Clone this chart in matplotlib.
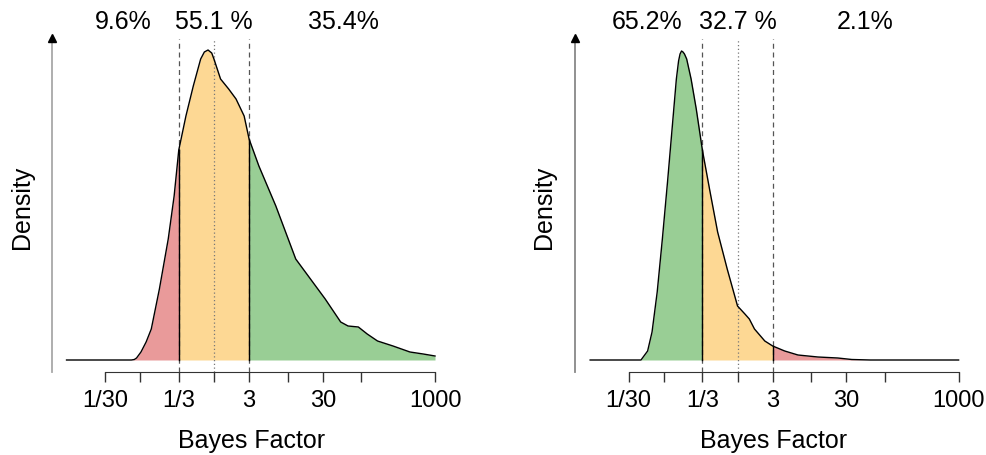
import numpy as np
import matplotlib
matplotlib.use("Agg")
from matplotlib import pyplot as plt

plt.rcParams['font.family'] = ['Liberation Sans', 'DejaVu Sans']

# log10(Bayes factor) grid and density
log_bf_left = [-2.0, -1.12, -1.08, -1.05, -0.99, -0.92, -0.85, -0.74, -0.62, -0.54, -0.477,
               -0.38, -0.28, -0.18, -0.13, -0.08, -0.03, 0.0, 0.09, 0.20, 0.30, 0.41,
               0.477, 0.61, 0.84, 1.11, 1.28, 1.51, 1.72, 1.82, 1.96, 2.08, 2.22,
               2.43, 2.66, 2.84, 3.0]
dens_left = [0, 0, 0.005, 0.02, 0.08, 0.18, 0.31, 0.71, 1.21, 1.64, 2.10,
             2.44, 2.74, 3.01, 3.08, 3.10, 3.07, 3.01, 2.81, 2.71, 2.61, 2.44,
             2.21, 1.94, 1.54, 1.01, 0.84, 0.61, 0.38, 0.34, 0.33, 0.26, 0.19,
             0.14, 0.08, 0.06, 0.04]

log_bf_right = [-2.0, -1.31, -1.22, -1.16, -1.09, -1.02, -0.95, -0.88, -0.83, -0.80,
                -0.78, -0.76, -0.74, -0.72, -0.69, -0.63, -0.56, -0.477, -0.38, -0.27,
                -0.14, 0.0, 0.10, 0.16, 0.23, 0.37, 0.477, 0.64, 0.82, 1.09, 1.36,
                1.55, 1.8, 3.0]
dens_right = [0, 0, 0.09, 0.28, 0.68, 1.21, 1.78, 2.38, 2.81, 2.99,
              3.06, 3.09, 3.08, 3.06, 3.01, 2.81, 2.51, 2.10, 1.71, 1.28,
              0.91, 0.54, 0.46, 0.41, 0.31, 0.19, 0.14, 0.09, 0.05, 0.03, 0.02,
              0.005, 0, 0]

pct_left = ["9.6%", "55.1 %", "35.4%"]
pct_right = ["65.2%", "32.7 %", "2.1%"]

tick_vals = [1/30, 1/10, 1/3, 1, 3, 10, 30, 100, 1000]
tick_labs = ["1/30", "", "1/3", "", "3", "", "30", "", "1000"]

RED = "#E99A9A"
ORANGE = "#FDD894"
GREEN = "#99CE95"

W, H = 987, 456
fig = plt.figure(figsize=(W / 100, H / 100), dpi=100)

def px_axes(x0, x1, y_top, y_bot):
    return fig.add_axes([x0 / W, (H - y_bot) / H, (x1 - x0) / W, (y_bot - y_top) / H])

def panel(ax, lx, dens, colors, pct, pct_x, arrow_grey, xlab_x):
    lx = np.array(lx)
    x = 10 ** lx
    y = np.array(dens)
    lo, hi = np.log10(1/3), np.log10(3)
    bounds = [(lx.min(), lo), (lo, hi), (hi, lx.max())]
    for (a, b), c in zip(bounds, colors):
        m = (lx >= a - 0.005) & (lx <= b + 0.005)
        ax.fill_between(x[m], 0, y[m], color=c, lw=0)
    # solid edges where the fills meet
    for b in (lo, hi):
        i = int(np.argmin(np.abs(lx - b)))
        ax.plot([x[i], x[i]], [0, y[i]], color="black", lw=1.0, zorder=3)
    ax.plot(x, y, color="black", lw=1.0, zorder=4)

    # category boundaries
    for v in (1/3, 3):
        ax.plot([v, v], [-0.12, 3.21], color="#555555", lw=0.9, ls=(0, (4, 3)), zorder=2)
    ax.plot([1, 1], [-0.12, 3.21], color="#777777", lw=0.9, ls=(0, (1, 2)), zorder=2)

    # y axis drawn as an arrow
    xa = 10 ** -2.2
    ax.plot([xa, xa], [-0.12, 3.22], color=arrow_grey, lw=1.3, clip_on=False)
    ax.plot([xa], [3.22], marker="^", color="black", ms=6, clip_on=False)

    for t, px in zip(pct, pct_x):
        ax.text(10 ** px, 3.39, t, ha="center", va="center", fontsize=18, clip_on=False)

    ax.set_xscale("log")
    ax.set_xlim(10 ** -2.2, 10 ** 3.05)
    ax.set_ylim(-0.19, 3.31)
    ax.set_xticks(tick_vals)
    ax.set_xticklabels(tick_labs)
    ax.minorticks_off()
    ax.set_yticks([])
    for s in ("top", "right", "left"):
        ax.spines[s].set_visible(False)
    ax.spines["bottom"].set_position(("data", -0.12))
    ax.spines["bottom"].set_bounds(1/30, 1000)
    ax.spines["bottom"].set_color("#333333")
    ax.tick_params(axis="x", direction="out", length=7.5, width=1.0,
                   color="#333333", pad=5, labelsize=17)
    ax.patch.set_alpha(0)
    fig.text(xlab_x / W, 1 - 441 / H, "Bayes Factor", ha="center", va="center", fontsize=18)

ax1 = px_axes(51.8, 438.7, 30, 380)
panel(ax1, log_bf_left, dens_left, [RED, ORANGE, GREEN], pct_left,
      [-1.23, 0, 1.76], "#A8A8A8", 252)
fig.text(22 / W, 1 - 207 / H, "Density", rotation=90, ha="center", va="center", fontsize=18)

ax2 = px_axes(575.4, 962.3, 30, 380)
panel(ax2, log_bf_right, dens_right, [GREEN, ORANGE, RED], pct_right,
      [-1.23, 0, 1.73], "#888888", 774)
fig.text(544 / W, 1 - 207 / H, "Density", rotation=90, ha="center", va="center", fontsize=18)

fig.savefig("out.png", dpi=100)
